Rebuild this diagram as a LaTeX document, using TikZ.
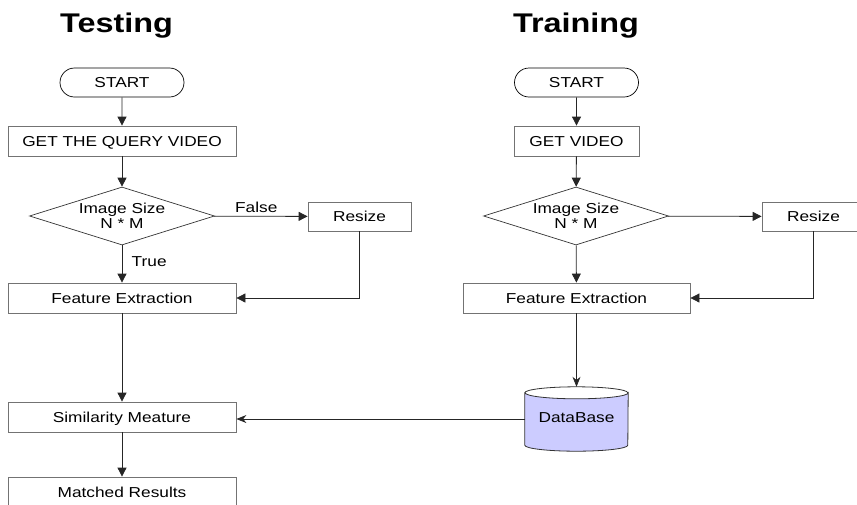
\documentclass[tikz,border=0pt]{standalone}
\usepackage{fontspec}
\setmainfont{Liberation Sans}[FakeStretch=1.2]
\usetikzlibrary{shapes.misc,shapes.geometric,arrows.meta}
\begin{document}
\begin{tikzpicture}[x=1pt,y=-1pt,
  every node/.style={font=\fontsize{14.4}{15}\selectfont},
  procbox/.style={draw=black!55, line width=0.8pt, minimum height=30pt, inner sep=0pt, text height=10.4pt, text depth=0pt},
  termbox/.style={draw=black, line width=0.7pt, rounded rectangle, minimum width=124pt, minimum height=29pt, inner sep=0pt, text height=10.4pt, text depth=0pt},
  decbox/.style={draw=black!80, line width=0.7pt, diamond, aspect=3.2, minimum width=185pt, minimum height=58pt, inner sep=0pt, align=center, font=\fontsize{14.4}{15}\selectfont},
  titletext/.style={font=\fontsize{27}{30}\selectfont\bfseries, anchor=base},
  flow/.style={draw=black!85, line width=0.8pt, -{Triangle[length=9pt,width=9pt]}},
  flowst/.style={draw=black!85, line width=0.8pt, -{Stealth[length=10pt,width=8pt]}},
  lbl/.style={font=\fontsize{14.4}{15}\selectfont}]
\useasboundingbox (0,0) rectangle (857,504);
% titles
\node[titletext] (ttest) at (116.5,32.5) {Testing};
\node[titletext] (ttrain) at (576,32.5) {Training};
% testing column
\node[termbox] (s1) at (122,82.5) {START};
\node[procbox, minimum width=228pt] (q1) at (122,141) {GET THE QUERY VIDEO};
\node[decbox] (d1) at (122,216) {Image Size\\N * M};
\node[procbox, minimum width=103pt, minimum height=29pt] (r1) at (359.5,216.5) {Resize};
\node[procbox, minimum width=228pt] (f1) at (122,298) {Feature Extraction};
\node[procbox, minimum width=228pt] (sm) at (122,417) {Similarity Meature};
\node[procbox, minimum width=228pt] (mr) at (122,492) {Matched Results};
% training column
\node[termbox] (s2) at (576.5,82.5) {START};
\node[procbox, minimum width=125pt] (q2) at (576.5,141) {GET VIDEO};
\node[decbox] (d2) at (576,216) {Image Size\\N * M};
\node[procbox, minimum width=103pt, minimum height=29pt] (r2) at (813.5,216.5) {Resize};
\node[procbox, minimum width=227pt] (f2) at (576.5,298) {Feature Extraction};
% database
\node[minimum width=103pt, minimum height=64pt, inner sep=0pt] (db) at (576.5,419) {};
\path[draw=black!80, fill={rgb,255:red,204;green,204;blue,255}, line width=0.8pt]
  ([yshift=-6pt]db.north west) -- ([yshift=6pt]db.south west)
  arc[start angle=180, end angle=360, x radius=51.5pt, y radius=6pt]
  -- ([yshift=-6pt]db.north east)
  arc[start angle=0, end angle=180, x radius=51.5pt, y radius=-6pt] -- cycle;
\draw[black!80, line width=0.8pt] ([yshift=-6pt]db.north west)
  arc[start angle=180, end angle=360, x radius=51.5pt, y radius=-6pt];
\node[text height=10.4pt, text depth=0pt] (dbt) at (576.5,417) {DataBase};
% connectors
\draw[flow] (s1) -- (q1);
\draw[flow] (q1) -- (d1);
\draw[flow] (d1) -- node[lbl, above, pos=0.45] (fl) {False} (r1);
\draw[flow] (d1) -- node[lbl, right, pos=0.43, xshift=6pt] (tl) {True} (f1);
\draw[flow] (r1.south) |- (f1.east);
\draw[flow] (f1) -- (sm);
\draw[flow] (sm) -- (mr);
\draw[flow] (s2) -- (q2);
\draw[flow] (q2) -- (d2);
\draw[flow] (d2) -- (r2);
\draw[flow] (d2) -- (f2);
\draw[flow] (r2.south) |- (f2.east);
\draw[flowst] (f2) -- (db.north);
\draw[flowst] (db.west) -- (db.west -| sm.east);
\end{tikzpicture}
\end{document}
